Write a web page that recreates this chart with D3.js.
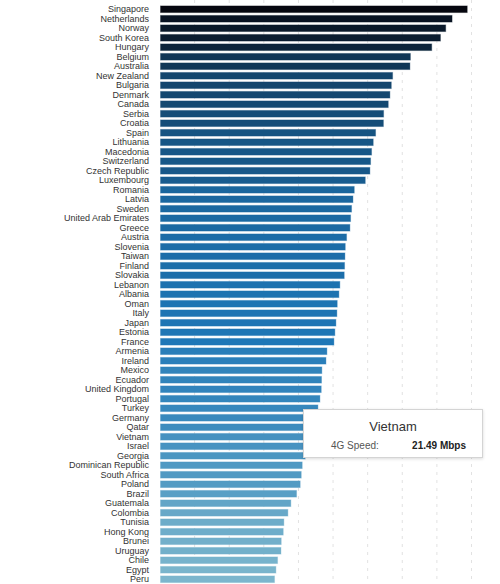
<!DOCTYPE html>
<html>
<head>
<meta charset="utf-8">
<script src="https://cdn.jsdelivr.net/npm/d3@7"></script>
<style>
    body { margin: 0; background: #fff; font-family: "Helvetica Neue", Helvetica, "Liberation Sans", Arial, sans-serif; }
    #chart { position: relative; width: 500px; height: 584px; }
    .tooltip {
        position: absolute;
        background: #fff;
        border: 1px solid #d4d4d4;
        box-shadow: 0 1px 3px rgba(0, 0, 0, 0.15);
        box-sizing: border-box;
        color: #333;
    }
    .tooltip .name { text-align: center; font-size: 13px; margin-top: 9px; }
    .tooltip .row { position: relative; font-size: 10px; margin-top: 6px; height: 12px; }
    .tooltip .row .k { position: absolute; left: 27px; color: #555; }
    .tooltip .row .v { position: absolute; right: 16px; font-weight: bold; color: #222; }
</style>
</head>
<body>
<div id="chart"></div>
<script>
var countries = ["Singapore", "Netherlands", "Norway", "South Korea", "Hungary", "Belgium", "Australia",
    "New Zealand", "Bulgaria", "Denmark", "Canada", "Serbia", "Croatia", "Spain", "Lithuania", "Macedonia",
    "Switzerland", "Czech Republic", "Luxembourg", "Romania", "Latvia", "Sweden", "United Arab Emirates",
    "Greece", "Austria", "Slovenia", "Taiwan", "Finland", "Slovakia", "Lebanon", "Albania", "Oman", "Italy",
    "Japan", "Estonia", "France", "Armenia", "Ireland", "Mexico", "Ecuador", "United Kingdom", "Portugal",
    "Turkey", "Germany", "Qatar", "Vietnam", "Israel", "Georgia", "Dominican Republic", "South Africa",
    "Poland", "Brazil", "Guatemala", "Colombia", "Tunisia", "Hong Kong", "Brunei", "Uruguay", "Chile",
    "Egypt", "Peru"];

// 4G download speed, Mbps
var speeds = [44.31, 42.12, 41.20, 40.44, 39.18, 36.10, 36.03,
    33.53, 33.34, 33.14, 32.90, 32.23, 32.20, 31.07, 30.73, 30.49,
    30.35, 30.25, 29.58, 27.99, 27.80, 27.60, 27.46,
    27.36, 26.88, 26.69, 26.64, 26.59, 26.54, 25.91, 25.77, 25.53, 25.48,
    25.34, 25.19, 25.05, 24.04, 23.90, 23.31, 23.26, 23.22, 23.03,
    22.74, 22.60, 22.20, 21.49, 21.20, 20.90, 20.47, 20.33,
    20.18, 19.65, 18.83, 18.40, 17.82, 17.73, 17.44, 17.40, 16.91,
    16.67, 16.47];

var gridTicks = [5, 10, 15, 20, 25, 30, 35, 40, 45];

var selected = "Vietnam";

window.onload = function () {
    var svg_width = 500;
    var svg_height = 584;
    var left = 160;

    var data = countries.map(function (c, i) {
        return {country: c, speed: speeds[i]};
    });

    var chart = d3.select("#chart");
    var svg = chart.append("svg")
        .attr("width", svg_width)
        .attr("height", svg_height);

    var x = d3.scaleLinear()
        .domain([0, 45])
        .range([left, 471.5]);

    var y = d3.scaleBand()
        .domain(countries)
        .range([4.5, 584])
        .paddingInner(0.3)
        .paddingOuter(0.15);

    var color = d3.scaleLinear()
        .domain([16.4, 25, 44.4])
        .range(["#7db7cd", "#1e77b7", "#06060e"]);

    // dashed grid
    svg.append("g")
        .selectAll("line")
        .data(gridTicks)
        .enter()
        .append("line")
        .attr("x1", function (d) { return x(d); })
        .attr("x2", function (d) { return x(d); })
        .attr("y1", 0)
        .attr("y2", svg_height)
        .attr("stroke", "#e2e2e2")
        .attr("stroke-width", 1)
        .attr("stroke-dasharray", "3,5");

    // bars
    svg.append("g")
        .selectAll("rect")
        .data(data)
        .enter()
        .append("rect")
        .attr("x", x(0) + 0.5)
        .attr("y", function (d) { return y(d.country); })
        .attr("width", function (d) { return x(d.speed) - x(0); })
        .attr("height", y.bandwidth())
        .attr("fill", function (d) { return color(d.speed); })
        .attr("stroke", function (d) { return color(d.speed); })
        .attr("stroke-opacity", 0.35)
        .attr("stroke-width", 1);

    // country labels
    var yAxis = d3.axisLeft(y).tickSize(0).tickPadding(0);
    var ax = svg.append("g")
        .attr("transform", "translate(149,0)")
        .call(yAxis);
    ax.select(".domain").remove();
    ax.selectAll("text")
        .attr("fill", "#333")
        .style("font-size", "9px")
        .style("font-family", "\"Helvetica Neue\", Helvetica, \"Liberation Sans\", Arial, sans-serif");

    // tooltip for the hovered bar
    var sel = data.filter(function (d) { return d.country === selected; })[0];
    var tip = chart.append("div")
        .attr("class", "tooltip")
        .style("left", "303px")
        .style("top", "409px")
        .style("width", "180px")
        .style("height", "49px");
    tip.append("div").attr("class", "name").text(sel.country);
    var row = tip.append("div").attr("class", "row");
    row.append("span").attr("class", "k").text("4G Speed:");
    row.append("span").attr("class", "v").text(d3.format(".2f")(sel.speed) + " Mbps");
};
</script>
</body>
</html>
